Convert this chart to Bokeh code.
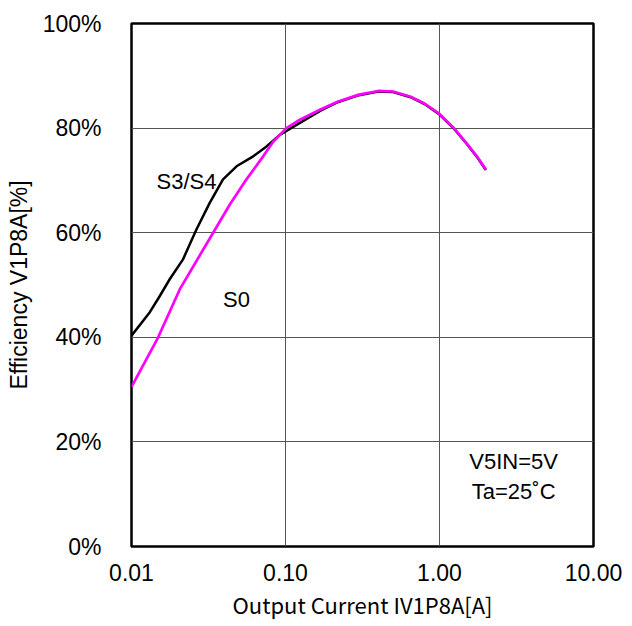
from bokeh.plotting import figure
from bokeh.models import FixedTicker, Label
from bokeh.embed import file_html
from bokeh.resources import INLINE

# Data
s34_x = [0.01, 0.01315, 0.01527, 0.0177, 0.0216, 0.0239, 0.0264, 0.0322, 0.0393, 0.0481, 0.0617,
         0.0753, 0.0918, 0.124, 0.17, 0.22, 0.3, 0.4, 0.5, 0.65, 0.8, 1.0, 1.25, 1.5, 1.75, 2.0]
s34_y = [40.3, 44.8, 47.9, 51.1, 54.9, 57.8, 60.6, 65.7, 70.2, 72.7, 74.6,
         76.5, 78.7, 81.0, 83.4, 85.0, 86.3, 87.0, 86.9, 85.9, 84.6, 82.6, 79.8, 77.0, 74.5, 72.0]
s0_x = [0.01, 0.0149, 0.0206, 0.0339, 0.0435, 0.0558, 0.0716, 0.0832, 0.1014,
        0.124, 0.17, 0.22, 0.3, 0.4, 0.5, 0.65, 0.8, 1.0, 1.25, 1.5, 1.75, 2.0]
s0_y = [30.5, 40.0, 49.2, 60.0, 65.4, 70.2, 74.6, 77.4, 80.0,
        81.6, 83.6, 85.1, 86.4, 87.1, 87.0, 86.0, 84.7, 82.7, 79.9, 77.1, 74.6, 72.1]
x_ticks = [0.01, 0.1, 1, 10]
x_labels = ["0.01", "0.10", "1.00", "10.00"]
y_ticks = [0, 20, 40, 60, 80, 100]
y_labels = ["0%", "20%", "40%", "60%", "80%", "100%"]

p = figure(width=624, height=622, x_axis_type="log", x_range=(0.01, 10), y_range=(0, 100),
           output_backend="svg", toolbar_location=None,
           min_border_left=131, min_border_right=31, min_border_top=23, min_border_bottom=74)
p.background_fill_color = "white"
p.border_fill_color = "white"
p.outline_line_color = "black"
p.outline_line_width = 2.5

p.xaxis.ticker = FixedTicker(ticks=x_ticks, minor_ticks=[])
p.yaxis.ticker = FixedTicker(ticks=y_ticks, minor_ticks=[])
p.xaxis.major_label_overrides = {t: l for t, l in zip(x_ticks, x_labels)}
p.yaxis.major_label_overrides = {t: l for t, l in zip(y_ticks, y_labels)}
for ax in (p.xaxis, p.yaxis):
    ax.axis_line_color = None
    ax.major_tick_line_color = None
    ax.minor_tick_line_color = None
    ax.major_label_text_font = "Liberation Sans"
    ax.major_label_text_font_size = "23px"
    ax.major_label_text_color = "black"
    ax.axis_label_text_color = "black"
    ax.axis_label_text_font_style = "normal"
p.xaxis.major_label_standoff = 11
p.yaxis.major_label_standoff = 24

p.xaxis.axis_label = "Output Current IV1P8A[A]"
p.xaxis.axis_label_text_font = "Noto Sans CJK JP"
p.xaxis.axis_label_text_font_size = "22px"
p.xaxis.axis_label_standoff = 4
p.yaxis.axis_label = "Efficiency V1P8A[%]"
p.yaxis.axis_label_text_font = "Liberation Sans"
p.yaxis.axis_label_text_font_size = "23px"
p.yaxis.axis_label_standoff = 8

p.xgrid.grid_line_color = "#555555"
p.ygrid.grid_line_color = "#555555"
p.xgrid.grid_line_width = 1
p.ygrid.grid_line_width = 1

p.line(s34_x, s34_y, line_color="black", line_width=2.5, line_join="round")
p.line(s0_x, s0_y, line_color="#FF00FF", line_width=2.7, line_join="round")

lab_font = "Liberation Sans"
for x, y, t in [(0.02275, 69.8, "S3/S4"), (0.0481, 47.3, "S0"),
                (3.03, 16.2, "V5IN=5V"), (3.03, 10.5, "Ta=25\u02daC")]:
    p.add_layout(Label(x=x, y=y, text=t, text_font=lab_font, text_font_size="22px",
                       text_color="black", text_align="center", text_baseline="middle"))

open("out.html", "w").write(file_html(p, INLINE))
